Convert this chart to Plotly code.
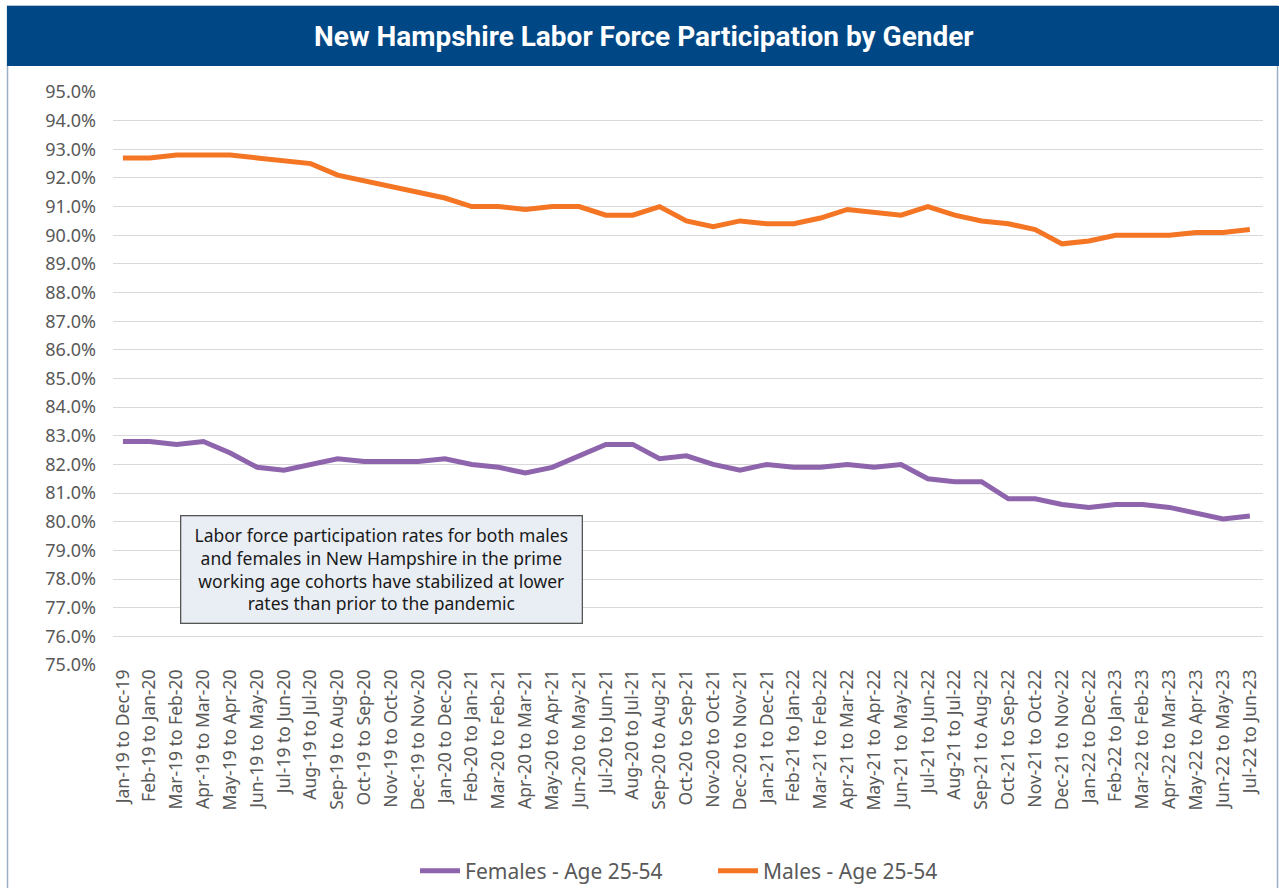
import plotly.graph_objects as go

categories = [
    "Jan-19 to Dec-19", "Feb-19 to Jan-20", "Mar-19 to Feb-20", "Apr-19 to Mar-20", "May-19 to Apr-20",
    "Jun-19 to May-20", "Jul-19 to Jun-20", "Aug-19 to Jul-20", "Sep-19 to Aug-20", "Oct-19 to Sep-20",
    "Nov-19 to Oct-20", "Dec-19 to Nov-20", "Jan-20 to Dec-20", "Feb-20 to Jan-21", "Mar-20 to Feb-21",
    "Apr-20 to Mar-21", "May-20 to Apr-21", "Jun-20 to May-21", "Jul-20 to Jun-21", "Aug-20 to Jul-21",
    "Sep-20 to Aug-21", "Oct-20 to Sep-21", "Nov-20 to Oct-21", "Dec-20 to Nov-21", "Jan-21 to Dec-21",
    "Feb-21 to Jan-22", "Mar-21 to Feb-22", "Apr-21 to Mar-22", "May-21 to Apr-22", "Jun-21 to May-22",
    "Jul-21 to Jun-22", "Aug-21 to Jul-22", "Sep-21 to Aug-22", "Oct-21 to Sep-22", "Nov-21 to Oct-22",
    "Dec-21 to Nov-22", "Jan-22 to Dec-22", "Feb-22 to Jan-23", "Mar-22 to Feb-23", "Apr-22 to Mar-23",
    "May-22 to Apr-23", "Jun-22 to May-23", "Jul-22 to Jun-23",
]

females = [
    82.8, 82.8, 82.7, 82.8, 82.4, 81.9, 81.8, 82.0, 82.2, 82.1,
    82.1, 82.1, 82.2, 82.0, 81.9, 81.7, 81.9, 82.3, 82.7, 82.7,
    82.2, 82.3, 82.0, 81.8, 82.0, 81.9, 81.9, 82.0, 81.9, 82.0,
    81.5, 81.4, 81.4, 80.8, 80.8, 80.6, 80.5, 80.6, 80.6, 80.5,
    80.3, 80.1, 80.2,
]
males = [
    92.7, 92.7, 92.8, 92.8, 92.8, 92.7, 92.6, 92.5, 92.1, 91.9,
    91.7, 91.5, 91.3, 91.0, 91.0, 90.9, 91.0, 91.0, 90.7, 90.7,
    91.0, 90.5, 90.3, 90.5, 90.4, 90.4, 90.6, 90.9, 90.8, 90.7,
    91.0, 90.7, 90.5, 90.4, 90.2, 89.7, 89.8, 90.0, 90.0, 90.0,
    90.1, 90.1, 90.2,
]
y_ticks = [75 + i for i in range(21)]
y_tick_labels = [f"{v:.1f}%" for v in y_ticks]

W, H = 1279, 888
L, R, T, B = 113, 1263, 92, 665  # page pixel positions of plot area

def px_x(p):
    return (p - L) / (R - L)

def px_y(p):
    return (B - p) / (B - T)

fig = go.Figure()
fig.add_trace(go.Scatter(
    x=categories, y=females, mode="lines", name="Females - Age 25-54",
    line=dict(color="#8E64AC", width=5), legend="legend",
))
fig.add_trace(go.Scatter(
    x=categories, y=males, mode="lines", name="Males - Age 25-54",
    line=dict(color="#F47524", width=5), legend="legend2",
))

font_main = "Noto Sans, Open Sans, sans-serif"
legend_common = dict(
    orientation="h", xref="container", yref="container",
    xanchor="left", y=1 - 871 / H, yanchor="middle",
    font=dict(family=font_main, size=21, color="#595959"),
    itemwidth=40, bgcolor="rgba(0,0,0,0)",
)

fig.update_layout(
    width=W, height=H,
    margin=dict(l=L, r=W - R, t=T, b=H - B, autoexpand=False),
    paper_bgcolor="white", plot_bgcolor="white",
    showlegend=True,
    legend=dict(x=415 / W, **legend_common),
    legend2=dict(x=713 / W, **legend_common),
    xaxis=dict(
        type="category", range=[-0.37, 42.49], tickangle=-90,
        tickfont=dict(family=font_main, size=17.5, color="#595959"),
        showgrid=False, showline=False, ticks="", zeroline=False,
    ),
    yaxis=dict(
        range=[75, 95], tickvals=y_ticks, ticktext=y_tick_labels,
        tickfont=dict(family=font_main, size=18, color="#595959"),
        showgrid=True, gridcolor="#D9D9D9", gridwidth=1.3,
        zeroline=False, showline=False, ticks="", ticklabelstandoff=16,
    ),
    shapes=[
        dict(type="rect", xref="paper", yref="paper",
             x0=px_x(7.5), x1=px_x(1277.5), y0=px_y(900), y1=px_y(6),
             line=dict(color="#9DB0C8", width=1.5), fillcolor="rgba(0,0,0,0)", layer="below"),
        dict(type="rect", xref="paper", yref="paper",
             x0=px_x(7), x1=px_x(1279), y0=px_y(66), y1=px_y(6),
             line=dict(width=0), fillcolor="#004785", layer="above"),
    ],
    annotations=[
        dict(text="<b>New Hampshire Labor Force Participation by Gender</b>",
             xref="paper", yref="paper", x=px_x(644), y=px_y(36),
             xanchor="center", yanchor="middle", showarrow=False,
             font=dict(family="Roboto, sans-serif", size=28, color="white")),
        dict(text="Labor force participation rates for both males<br>"
                  "and females in New Hampshire in the prime<br>"
                  "working age cohorts have stabilized at lower<br>"
                  "rates than prior to the pandemic",
             xref="paper", yref="paper", x=px_x(381.5), y=px_y(569),
             xanchor="center", yanchor="middle", showarrow=False,
             width=398, height=104, align="center",
             bgcolor="#E9EEF5", bordercolor="#555555", borderwidth=1.3, borderpad=1,
             font=dict(family=font_main, size=17.5, color="#1a1a1a")),
    ],
)

fig.write_html("out.html", config={"displayModeBar": False},
               post_script="document.body.style.margin='0px';")
